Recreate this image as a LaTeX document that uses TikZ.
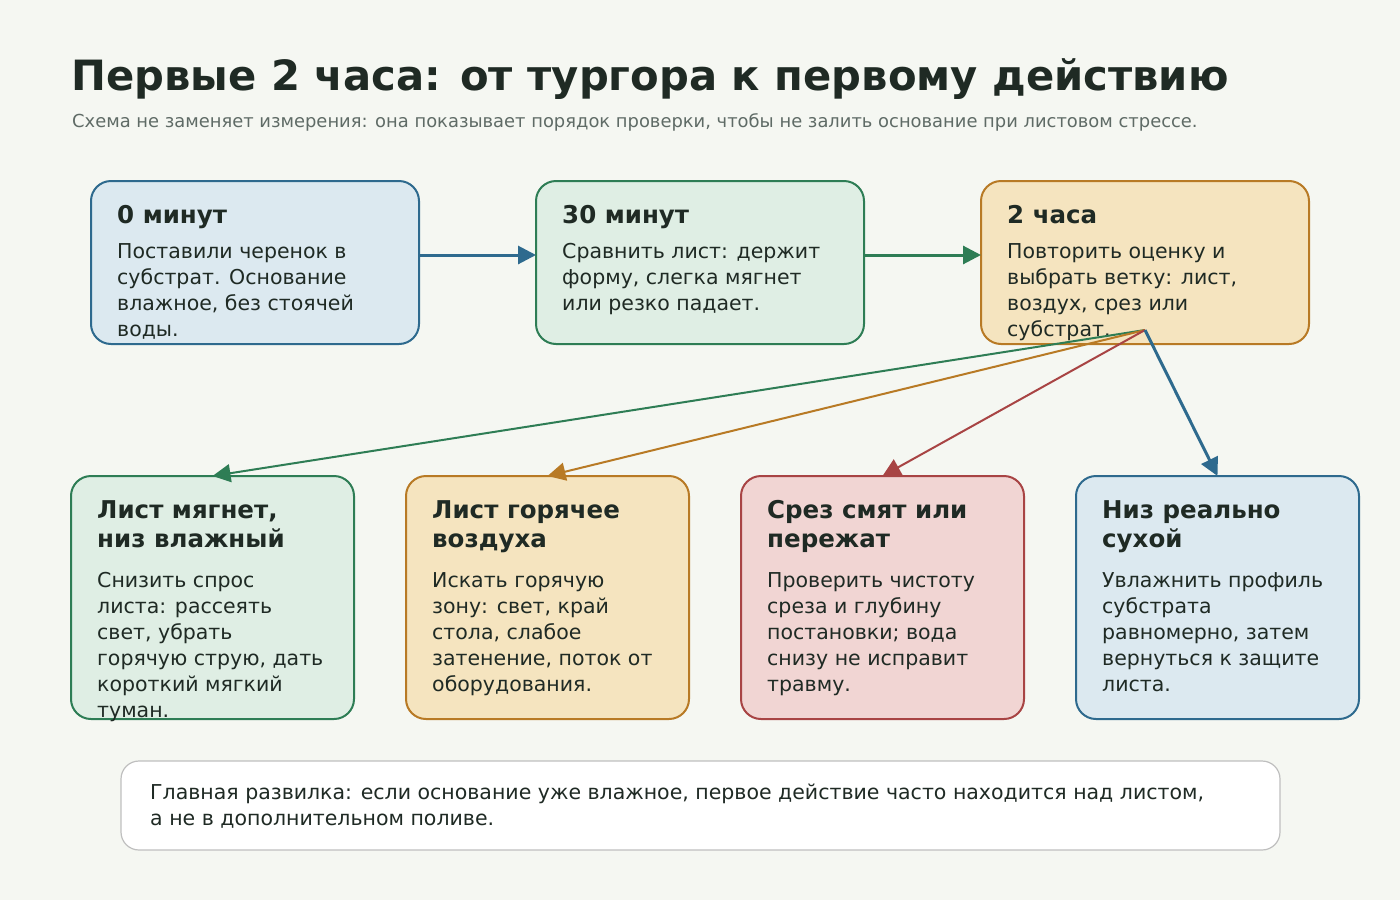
\documentclass[tikz,border=0pt]{standalone}
\usepackage{fontspec}
\setmainfont{DejaVu Sans}
\usetikzlibrary{arrows.meta}
\definecolor{bg}{HTML}{F5F7F2}
\definecolor{ink}{HTML}{1F2A24}
\definecolor{sub}{HTML}{5F6B66}
\definecolor{bluef}{HTML}{DCE9F0}\definecolor{blued}{HTML}{2E6A8E}
\definecolor{greenf}{HTML}{DFEEE4}\definecolor{greend}{HTML}{2E7D55}
\definecolor{orf}{HTML}{F5E4BF}\definecolor{ord}{HTML}{B87A25}
\definecolor{redf}{HTML}{F1D5D3}\definecolor{redd}{HTML}{A84444}
\tikzset{
 box/.style={draw=#1d,fill=#1f,line width=2pt,rounded corners=20pt},
 hd/.style={anchor=north west,inner sep=0pt,align=left,text=ink,font=\fontsize{24.5}{29}\selectfont\bfseries},
 bd/.style={anchor=north west,inner sep=0pt,align=left,text=ink,font=\fontsize{20.5}{26}\selectfont},
 arr/.style={draw=#1,line width=3pt,-{Triangle[length=18pt,width=18pt]}},
 fan/.style={draw=#1,line width=2pt,-{Triangle[length=18pt,width=18pt]}},
}
\begin{document}
\begin{tikzpicture}[x=1pt,y=-1pt]
\fill[bg] (0,0) rectangle (1400,900);
\useasboundingbox (0,0) rectangle (1400,900);
\node[anchor=base west,inner sep=0pt,text=ink,font=\fontsize{41.7}{46}\selectfont\bfseries] (title) at (71,90) {Первые 2 часа: от тургора к первому действию};
\node[anchor=base west,inner sep=0pt,text=sub,font=\fontsize{17.9}{20}\selectfont] (subt) at (72,127) {Схема не заменяет измерения: она показывает порядок проверки, чтобы не залить основание при листовом стрессе.};
% top boxes
\draw[box=blue] (91,181) rectangle (419,344);
\coordinate (aE) at (419,255);
\node[hd] (ah) at (117,205) {0 минут};
\node[bd] (ab) at (117,243) {Поставили черенок в\\субстрат. Основание\\влажное, без стоячей\\воды.};
\draw[box=green] (536,181) rectangle (864,344);
\coordinate (bW) at (536,255); \coordinate (bE) at (864,255);
\node[hd] (bh) at (562,205) {30 минут};
\node[bd] (bb) at (562,243) {Сравнить лист: держит\\форму, слегка мягнет\\или резко падает.};
\draw[box=or] (981,181) rectangle (1309,344);
\coordinate (cW) at (981,255);
\node[hd] (ch) at (1007,205) {2 часа};
\node[bd] (cb) at (1007,243) {Повторить оценку и\\выбрать ветку: лист,\\воздух, срез или\\субстрат.};
\draw[arr=blued] (aE) -- (bW);
\draw[arr=greend] (bE) -- (cW);
% bottom boxes
\draw[box=green] (71,476) rectangle (354,719); \coordinate (d) at (212.5,476);
\node[hd] (dh) at (97,500) {Лист мягнет,\\низ влажный};
\node[bd] (db) at (97,572) {Снизить спрос\\листа: рассеять\\свет, убрать\\горячую струю, дать\\короткий мягкий\\туман.};
\draw[box=or] (406,476) rectangle (689,719); \coordinate (e) at (547.5,476);
\node[hd] (eh) at (432,500) {Лист горячее\\воздуха};
\node[bd] (eb) at (432,572) {Искать горячую\\зону: свет, край\\стола, слабое\\затенение, поток от\\оборудования.};
\draw[box=red] (741,476) rectangle (1024,719); \coordinate (f) at (882.5,476);
\node[hd] (fh) at (767,500) {Срез смят или\\пережат};
\node[bd] (fb) at (767,572) {Проверить чистоту\\среза и глубину\\постановки; вода\\снизу не исправит\\травму.};
\draw[box=blue] (1076,476) rectangle (1359,719); \coordinate (g) at (1217.5,476);
\node[hd] (gh) at (1102,500) {Низ реально\\сухой};
\node[bd] (gb) at (1102,572) {Увлажнить профиль\\субстрата\\равномерно, затем\\вернуться к защите\\листа.};
\coordinate (fork) at (1145,330);
\draw[fan=greend] (fork) -- (d);
\draw[fan=ord] (fork) -- (e);
\draw[fan=redd] (fork) -- (f);
\draw[arr=blued] (fork) -- (g);
% note
\draw[draw=black!25,fill=white,line width=1.2pt,rounded corners=18pt] (121,761) rectangle (1280,850);
\node[anchor=north west,inner sep=0pt,align=left,text=ink,font=\fontsize{20.5}{26}\selectfont] (note) at (150,784) {Главная развилка: если основание уже влажное, первое действие часто находится над листом,\\а не в дополнительном поливе.};
\end{tikzpicture}
\end{document}
